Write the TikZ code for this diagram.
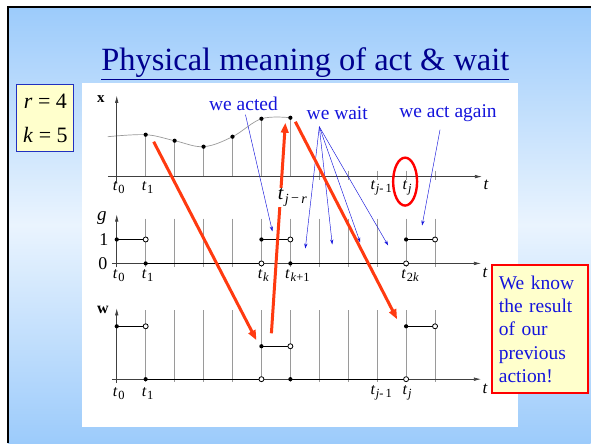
\documentclass[tikz,border=0pt]{standalone}
\usepackage{fontspec}
\setmainfont{Liberation Serif}
\usetikzlibrary{arrows.meta,calc}
\definecolor{slideblue}{HTML}{9CCBFB}
\definecolor{slidelight}{HTML}{EAF4FE}
\definecolor{titleblue}{HTML}{00008F}
\definecolor{noteblue}{HTML}{1414DC}
\definecolor{boxblue}{HTML}{2030C0}
\definecolor{noteyellow}{HTML}{FFFFCC}
\definecolor{actred}{HTML}{FF3A10}
\definecolor{gridgray}{HTML}{9A9A9A}
\newcommand{\tlab}[1]{\textit{t}\kern0.6pt\raisebox{-3pt}{\fontsize{12.5}{12.5}\selectfont#1}}

\begin{document}
\begin{tikzpicture}[x=1pt,y=-1pt,
  grid/.style={draw=gridgray,line width=0.6pt},
  axis/.style={draw=black!75,line width=0.6pt,-{Latex[length=7pt,width=3.5pt]}},
  level/.style={draw=black,line width=1.3pt},
  dotfull/.style={circle,fill=black,inner sep=0pt,minimum size=4.2pt},
  dotopen/.style={circle,draw=black,fill=white,line width=0.8pt,inner sep=0pt,minimum size=5pt},
  ticklab/.style={font=\fontsize{16}{16}\selectfont,inner sep=1pt},
  axlab/.style={font=\fontsize{17}{17}\selectfont\itshape,inner sep=0pt},
  note/.style={text=noteblue,font=\fontsize{19.5}{19.5}\selectfont,inner sep=1pt},
  hint/.style={draw=noteblue,line width=0.45pt,-{Stealth[length=5pt,width=3.2pt]}},
  push/.style={draw=actred,line width=3pt,-{Triangle[length=10pt,width=7.5pt]}}]
  % slide background
  \fill[white] (0,0) rectangle (592,444);
  \shade[top color=slideblue,bottom color=slideblue,middle color=slidelight] (8,7) rectangle (592,444);
  \draw[line width=2.6pt] (8,444) -- (8,7) -- (592,7);
  \fill[white] (82,83) rectangle (519,428);
  \node[font=\fontsize{32.5}{32.5}\selectfont,text=titleblue] (title) at (306,64) {\underline{Physical meaning of act \& wait}};
  \node[draw=boxblue,line width=1pt,fill=noteyellow,minimum width=57,minimum height=67,
        align=center,font=\fontsize{22}{34}\selectfont] (params) at (45.5,118.5) {\textit{r} = 4\\\textit{k} = 5};

  % top panel: sampled state x
  \foreach \i in {7,...,11}
    \draw[grid] (117+29*\i,171) -- (117+29*\i,180);
  \draw[gridgray,line width=0.7pt] plot[smooth,tension=0.6] coordinates
    {(108,137) (146,135) (175,141) (204,147) (233,137) (262,119) (291,118)};
  \foreach \i/\yy in {1/135,2/141,3/147,4/137,5/119,6/118}{
    \draw[grid] (117+29*\i,177) -- (117+29*\i,\yy);
    \node[dotfull] (x\i) at (117+29*\i,\yy) {};
  }
  \draw[axis] (117,183) -- (117,96);
  \draw[axis] (108,177) -- (483,177);
  \node[font=\fontsize{15}{15}\selectfont\bfseries] (xlab) at (101,99) {x};
  \node[axlab] (tx) at (487,185) {t};
  \node[ticklab] (xt0) at (119,188) {\tlab{0}};
  \node[ticklab] (xt1) at (148,188) {\tlab{1}};
  \node[ticklab] (xtj1) at (382,188) {\tlab{\textit{j}-\,1}};
  \node[ticklab] (xtj) at (408,188) {\tlab{\textit{j}}};
  \draw[red,line width=2.4pt] (406,182) ellipse [x radius=12,y radius=24];

  % middle panel: switch g
  \foreach \i in {1,...,11}
    \draw[grid] (117+29*\i,219) -- (117+29*\i,268);
  \draw[axis] (117,268) -- (117,215);
  \draw[axis] (112,264) -- (482,264);
  \foreach \a/\b/\yy in {0/1/240,1/5/264,5/6/240,6/10/264,10/11/240}{
    \draw[level] (117+29*\a,\yy) -- (117+29*\b,\yy);
    \node[dotfull] (g\a) at (117+29*\a,\yy) {};
    \node[dotopen] (g\b) at (117+29*\b,\yy) {};
  }
  \node[axlab,font=\fontsize{19}{19}\selectfont\itshape] (glab) at (102,219) {g};
  \node[ticklab,font=\fontsize{18}{18}\selectfont] (gone) at (104,240) {1};
  \node[ticklab,font=\fontsize{18}{18}\selectfont] (gzero) at (103,264) {0};
  \node[axlab] (tg) at (486,273) {t};
  \node[ticklab] (gt0) at (119,276) {\tlab{0}};
  \node[ticklab] (gt1) at (148,276) {\tlab{1}};
  \node[ticklab] (gtk) at (264,276) {\tlab{\textit{k}}};
  \node[ticklab] (gtk1) at (298,276) {\tlab{\textit{k}+1}};
  \node[ticklab] (gt2k) at (411,276) {\tlab{2\textit{k}}};

  % bottom panel: control w
  \foreach \i in {1,...,11}
    \draw[grid] (117+29*\i,311) -- (117+29*\i,383);
  \draw[axis] (117,384) -- (117,309);
  \draw[axis] (112,380) -- (482,380);
  \foreach \a/\b/\yy in {0/1/327,1/5/380,5/6/347,6/10/380,10/11/327}{
    \draw[level] (117+29*\a,\yy) -- (117+29*\b,\yy);
    \node[dotfull] (w\a) at (117+29*\a,\yy) {};
    \node[dotopen] (w\b) at (117+29*\b,\yy) {};
  }
  \node[font=\fontsize{16}{16}\selectfont\bfseries] (wlab) at (103,311) {w};
  \node[axlab] (tw) at (486,390) {t};
  \node[ticklab] (wt0) at (119,394) {\tlab{0}};
  \node[ticklab] (wt1) at (148,394) {\tlab{1}};
  \node[ticklab] (wtj1) at (382,394) {\tlab{\textit{j}-\,1}};
  \node[ticklab] (wtj) at (408,394) {\tlab{\textit{j}}};

  % annotations
  \node[note] (acted) at (244,104) {we acted};
  \node[note] (wait) at (338,113) {we wait};
  \node[note] (again) at (449,113) {we act again};
  \coordinate (actedfrom) at (246,115);
  \coordinate (waitfrom) at (320,127);
  \coordinate (againfrom) at (441,130);
  \coordinate (gact) at (273,232);
  \coordinate (gagain) at (423,226);
  \draw[hint] (actedfrom) -- (gact);
  \foreach \px/\py in {306/249,333/245,361/243,389/246}
    \draw[hint] (waitfrom) -- (\px,\py);
  \draw[hint] (againfrom) -- (gagain);

  \coordinate (r1a) at (154,142);
  \coordinate (r1b) at (257,341);
  \coordinate (r2a) at (272,334);
  \coordinate (r2b) at (286,123);
  \coordinate (r3a) at (296,122);
  \coordinate (r3b) at (398,320);
  \draw[push] (r1a) -- (r1b);
  \draw[push] (r2a) -- (r2b);
  \draw[push] (r3a) -- (r3b);
  % label sits over the rising arrow
  \node[ticklab,fill=white,inner sep=0.5pt,font=\fontsize{20}{20}\selectfont] (xtjr) at (293,198) {\textit{t}\kern1pt\raisebox{-4pt}{\fontsize{14}{14}\selectfont\textit{j}\,\raisebox{1pt}{−}\,\textit{r}}};

  \node[draw=red,line width=2pt,fill=noteyellow,text=noteblue,anchor=north west,
        text width=82pt,inner xsep=7pt,minimum height=128pt,align=left,
        font=\fontsize{19.5}{23.5}\selectfont] (result) at (492,265)
        {We know\\the result\\of our\\previous\\action!};
\end{tikzpicture}
\end{document}
